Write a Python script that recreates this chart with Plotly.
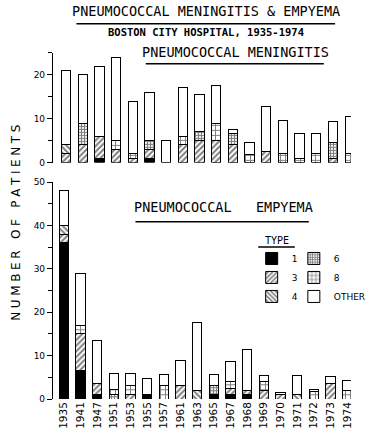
import plotly.graph_objects as go

years = ["1935", "1941", "1947", "1951", "1953", "1955", "1957", "1961", "1963",
         "1965", "1967", "1968", "1969", "1970", "1971", "1972", "1973", "1974"]

# Pneumococcal meningitis (top panel) - patients by capsular type
men_t1 = [0, 0, 1, 0, 0, 1, 0, 0, 0, 0, 0, 0, 0, 0, 0, 0, 0, 0]
men_t3 = [2, 4, 5, 3, 1, 2, 0, 4, 5, 5, 4, 0, 2.5, 0, 0, 0, 1, 0]
men_t4 = [2, 0, 0, 0, 0, 0, 0, 0, 0, 0, 0, 0, 0, 0, 0, 0, 0, 0]
men_t6 = [0, 5, 0, 0, 0, 2, 0, 0, 2, 0, 2.6, 0, 0, 0, 0, 0, 3.5, 0]
men_t8 = [0, 0, 0, 2, 1, 0, 0, 2, 0, 4, 0, 1.8, 0, 2, 0.8, 2, 0, 2]
men_other = [17, 11, 16, 19, 12, 11, 5, 11, 8.6, 8.6, 1, 2.8, 10.2, 7.5, 5.9, 4.7, 4.9, 8.5]

# Pneumococcal empyema (bottom panel)
emp_t1 = [36, 6.5, 1, 0, 0, 1, 0, 0, 0, 1, 1, 1, 0, 0, 0, 0, 0, 0]
emp_t3 = [2, 8.5, 2.5, 0, 1, 0, 0, 3, 0, 0, 1.5, 1, 2, 1, 0, 0, 3.5, 0]
emp_t4 = [2, 0, 0, 0, 0, 0, 0, 0, 2, 0, 0, 0, 0, 0, 1, 0, 0, 0]
emp_t6 = [0, 0, 0, 1, 0, 0, 0, 0, 0, 2, 0, 0, 0, 0, 0, 0, 0, 0]
emp_t8 = [0, 2, 0, 1.2, 2, 0, 3, 0, 0, 0, 1.5, 0, 2, 0, 0, 1.8, 0, 2]
emp_other = [8, 12, 10, 3.6, 2.8, 3.8, 2.6, 5.8, 15.7, 2.6, 4.7, 9.5, 1.5, 0.6, 4.5, 0.5, 1.8, 2.2]

type_names = ["1", "3", "4", "6", "8", "OTHER"]

W, H = 371, 436
L, B = 53, 37
PW, PH = W - L, H - B


def px(x):
    return (x - L) / PW


def py(y):
    return (PH - y) / PH


styles = {
    "1": dict(color="black"),
    "3": dict(color="white", pattern=dict(shape="/", fgcolor="black", bgcolor="white", size=4, solidity=0.5)),
    "4": dict(color="white", pattern=dict(shape="\\", fgcolor="black", bgcolor="white", size=4, solidity=0.5)),
    "6": dict(color="white", pattern=dict(shape="+", fgcolor="black", bgcolor="white", size=3, solidity=0.65)),
    "8": dict(color="white", pattern=dict(shape="+", fgcolor="black", bgcolor="white", size=5, solidity=0.35)),
    "OTHER": dict(color="white"),
}
legend_of = {"1": "legend", "3": "legend", "4": "legend",
             "6": "legend2", "8": "legend2", "OTHER": "legend2"}

men_series = [men_t1, men_t3, men_t4, men_t6, men_t8, men_other]
emp_series = [emp_t1, emp_t3, emp_t4, emp_t6, emp_t8, emp_other]

fig = go.Figure()
for name, vals in zip(type_names, men_series):
    fig.add_trace(go.Bar(x=years, y=vals, name=name, xaxis="x2", yaxis="y2",
                         marker=dict(line=dict(color="black", width=1), **styles[name]),
                         width=0.56, showlegend=False, hoverinfo="skip"))
for name, vals in zip(type_names, emp_series):
    fig.add_trace(go.Bar(x=years, y=vals, name=name, xaxis="x", yaxis="y",
                         marker=dict(line=dict(color="black", width=1), **styles[name]),
                         width=0.56, legend=legend_of[name], hoverinfo="skip"))

# axis geometry (pixel rows of the reference)
bot_zero, bot_fifty = 399, 179.5
top_zero, top_25 = 159.5, 48.5
tickfont = dict(family="DejaVu Sans", size=9, color="black")
xtickfont = dict(family="DejaVu Sans", size=10.5, color="black")
legfont = dict(family="DejaVu Sans", size=9, color="black")

fig.update_layout(
    width=W, height=H,
    margin=dict(l=L, r=0, t=0, b=B),
    paper_bgcolor="white", plot_bgcolor="white",
    barmode="stack", bargap=0.4,
    showlegend=True,
    xaxis=dict(domain=[0, 1], range=[-0.646, 17.22], type="category",
               tickangle=-90, tickfont=xtickfont, showline=False, ticks="",
               showgrid=False, zeroline=False),
    xaxis2=dict(domain=[0, 1], range=[-0.787, 17.08], type="category", anchor="y2",
                showticklabels=False, showline=False, ticks="", showgrid=False, zeroline=False),
    yaxis=dict(domain=[py(bot_zero), py(bot_fifty)], range=[0, 50], tickvals=[0, 10, 20, 30, 40, 50],
               ticks="outside", ticklen=5, tickwidth=1, tickcolor="black",
               showline=True, linecolor="black", linewidth=1.2, showgrid=False, zeroline=False,
               tickfont=tickfont,
               minor=dict(tickvals=[5, 15, 25, 35, 45], ticks="outside", ticklen=4, tickcolor="black")),
    yaxis2=dict(domain=[py(top_zero), py(top_25)], range=[0, 25], tickvals=[0, 10, 20], anchor="x2",
                ticks="outside", ticklen=5, tickwidth=1, tickcolor="black",
                showline=True, linecolor="black", linewidth=1.2, showgrid=False, zeroline=False,
                tickfont=tickfont,
                minor=dict(tickvals=[5, 15, 25], ticks="outside", ticklen=4, tickcolor="black")),
    legend=dict(orientation="v", x=px(265), y=py(242), xanchor="left", yanchor="top",
                itemwidth=30, font=legfont, traceorder="normal",
                bgcolor="rgba(0,0,0,0)", borderwidth=0),
    legend2=dict(orientation="v", x=px(310), y=py(242), xanchor="left", yanchor="top",
                 itemwidth=30, font=legfont, traceorder="normal",
                 bgcolor="rgba(0,0,0,0)", borderwidth=0),
)

mono = "DejaVu Sans Mono"
ann = [
    dict(text="PNEUMOCOCCAL MENINGITIS & EMPYEMA", x=px(216), y=py(6.5), size=13.5),
    dict(text="<b>BOSTON CITY HOSPITAL, 1935-1974</b>", x=px(216.5), y=py(27), size=10.5),
    dict(text="PNEUMOCOCCAL MENINGITIS", x=px(248), y=py(47.5), size=13.5),
    dict(text="PNEUMOCOCCAL   EMPYEMA", x=px(235), y=py(205), size=13.5),
    dict(text="TYPE", x=px(291.5), y=py(238), size=10),
]
for a in ann:
    fig.add_annotation(text=a["text"], x=a["x"], y=a["y"], xref="paper", yref="paper",
                       xanchor="center", yanchor="middle", showarrow=False,
                       font=dict(family=mono, size=a["size"], color="black"))

thin = "\u2009\u200a"
ytitle = "   ".join(thin.join(list(w)) for w in ["NUMBER", "OF", "PATIENTS"])
fig.add_annotation(text=ytitle, x=px(14), y=py(220), xref="paper", yref="paper",
                   xanchor="center", yanchor="middle", textangle=-90, showarrow=False,
                   font=dict(family="DejaVu Sans", size=12, color="black"))

# underlines of the hand-lettered titles
for x0, x1, y in [(78, 354, 19), (152, 342, 59.5), (141, 326, 219.5), (272, 311, 245)]:
    fig.add_shape(type="line", xref="paper", yref="paper", x0=px(x0), x1=px(x1), y0=py(y), y1=py(y),
                  line=dict(color="black", width=1.6))

fig.write_html("out.html")
